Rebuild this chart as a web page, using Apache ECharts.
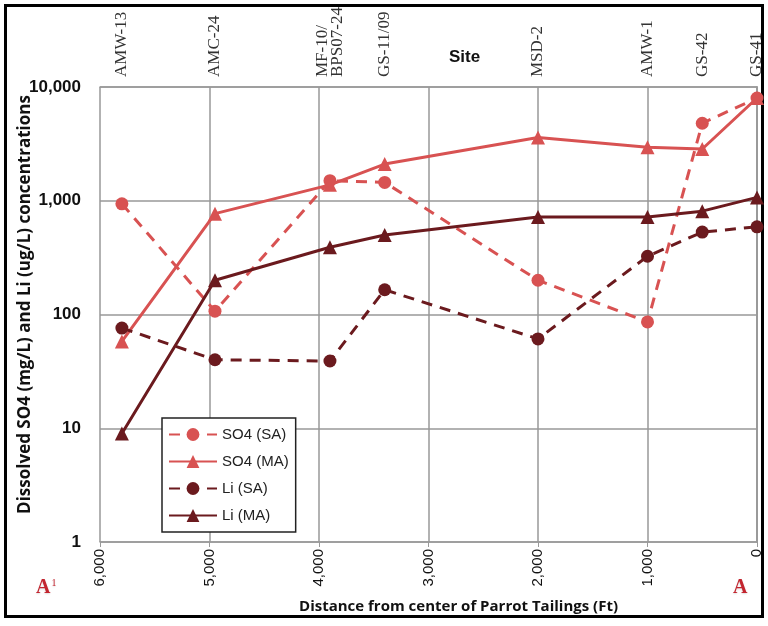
<!DOCTYPE html>
<html>
<head>
<meta charset="utf-8">
<script src="https://cdn.jsdelivr.net/npm/echarts@6/dist/echarts.min.js"></script>
<style>
html,body{margin:0;padding:0;background:#fff;}
#wrap{position:absolute;left:4px;top:4px;width:754px;height:608px;border:3px solid #000;}
#chart{position:absolute;left:0;top:0;width:768px;height:626px;}
</style>
</head>
<body>
<div id="wrap"></div>
<div id="chart"></div>
<script>
// Distance from center of Parrot Tailings (ft) for each site
const sites = ['AMW-13', 'AMC-24', 'MF-10/\nBPS07-24', 'GS-11/09', 'MSD-2', 'AMW-1', 'GS-42', 'GS-41'];
const distances = [5800, 4950, 3900, 3400, 2000, 1000, 500, 0];
const so4SA = [940, 107, 1500, 1450, 200, 86, 4800, 8000];
const so4MA = [58, 770, 1380, 2100, 3600, 2950, 2850, 8000];
const liSA = [76, 40, 39, 165, 61, 325, 530, 590];
const liMA = [9, 200, 390, 500, 720, 720, 810, 1070];
const xTicks = [0, 1000, 2000, 3000, 4000, 5000, 6000];
const yTicks = [1, 10, 100, 1000, 10000];

const SO4C = '#d85252';
const LIC = '#6b1a1e';

function pts(vals) { return distances.map((d, i) => [d, vals[i]]); }

const chart = echarts.init(document.getElementById('chart'));
chart.setOption({
  animation: false,
  backgroundColor: 'transparent',
  grid: { left: 100, right: 11, top: 87, bottom: 84, containLabel: false, outerBoundsMode: 'none' },
  title: {
    text: 'Site', left: 444, top: 44,
    textStyle: { fontFamily: 'Liberation Sans', fontSize: 17, fontWeight: 'bold', color: '#111' }
  },
  xAxis: [{
    type: 'value', position: 'bottom', inverse: true, min: 0, max: 6000, interval: 1000,
    axisLine: { show: true, lineStyle: { color: '#999', width: 1.5 } },
    axisTick: { show: true, length: 5, lineStyle: { color: '#999' } },
    splitLine: { show: true, lineStyle: { color: '#999', width: 1.5 } },
    axisLabel: {
      rotate: 90, margin: 7, fontFamily: 'Liberation Sans', fontSize: 15, color: '#111',
      customValues: xTicks,
      formatter: v => v.toLocaleString('en-US')
    },
    name: 'Distance from center of Parrot Tailings (Ft)', nameLocation: 'middle', nameGap: 57,
    nameMoveOverlap: false,
    nameTextStyle: { fontFamily: 'Open Sans', fontSize: 15, fontWeight: 'bold', color: '#111', padding: [0, 0, 0, 60] }
  }, {
    type: 'value', position: 'top', inverse: true, min: 0, max: 6000,
    axisLine: { show: true, lineStyle: { color: '#999', width: 1.5 } },
    axisTick: { show: false },
    splitLine: { show: false },
    axisLabel: {
      show: true, rotate: -90, margin: 10, fontFamily: 'Liberation Serif', fontSize: 17, color: '#333',
      lineHeight: 15, customValues: distances,
      formatter: v => { const i = distances.indexOf(v); return i >= 0 ? sites[i] : ''; }
    }
  }],
  yAxis: [{
    type: 'log', logBase: 10, min: 1, max: 10000,
    axisLine: { show: true, lineStyle: { color: '#999', width: 1.5 } },
    axisTick: { show: false },
    minorTick: { show: false },
    splitLine: { show: true, lineStyle: { color: '#999', width: 1.5 } },
    axisLabel: {
      margin: 19, fontFamily: 'Liberation Sans', fontSize: 17, fontWeight: 'bold', color: '#111',
      customValues: yTicks,
      formatter: v => Math.round(v).toLocaleString('en-US')
    },
    name: 'Dissolved SO4 (mg/L) and Li (ug/L) concentrations', nameLocation: 'middle', nameGap: 66,
    nameMoveOverlap: false,
    nameTextStyle: { fontFamily: 'Open Sans', fontSize: 17, fontWeight: 'bold', color: '#111', padding: [0, 0, 0, 20] }
  }, {
    type: 'log', logBase: 10, min: 1, max: 10000, position: 'right',
    axisLine: { show: true, lineStyle: { color: '#999', width: 1.5 } },
    axisTick: { show: false }, axisLabel: { show: false }, splitLine: { show: false }
  }],
  legend: {
    orient: 'vertical', left: 162, top: 418,
    backgroundColor: '#fff', borderColor: '#222', borderWidth: 1.5,
    padding: [9, 7, 9, 6], itemGap: 12, itemWidth: 48, itemHeight: 16,
    textStyle: { fontFamily: 'Liberation Sans', fontSize: 15, color: '#222' },
    data: ['SO4 (SA)', 'SO4 (MA)', 'Li (SA)', 'Li (MA)']
  },
  graphic: [
    { type: 'text', left: 36, top: 578, style: {
      text: '{a|A}{s|1}', rich: { a: { fontFamily: 'Liberation Serif', fontSize: 20, fontWeight: 'bold', fill: '#c3252f' }, s: { fontFamily: 'Liberation Serif', fontSize: 10, fill: '#c3252f', verticalAlign: 'top', padding: [0, 0, 10, 1] } },
      textShadowColor: '#ddd', textShadowBlur: 2, textShadowOffsetY: 1 } },
    { type: 'text', left: 733, top: 578, style: {
      text: 'A', font: 'bold 20px "Liberation Serif"', fill: '#c3252f',
      textShadowColor: '#ddd', textShadowBlur: 2, textShadowOffsetY: 1 } }
  ],
  series: [
    { name: 'SO4 (SA)', type: 'line', data: pts(so4SA), color: SO4C,
      symbol: 'circle', symbolSize: 13, lineStyle: { width: 3, type: [11, 8] }, z: 3 },
    { name: 'SO4 (MA)', type: 'line', data: pts(so4MA), color: SO4C,
      symbol: 'triangle', symbolSize: 14, lineStyle: { width: 3 }, z: 2 },
    { name: 'Li (SA)', type: 'line', data: pts(liSA), color: LIC,
      symbol: 'circle', symbolSize: 13, lineStyle: { width: 3, type: [11, 8] }, z: 4 },
    { name: 'Li (MA)', type: 'line', data: pts(liMA), color: LIC,
      symbol: 'triangle', symbolSize: 14, lineStyle: { width: 3 }, z: 5 }
  ]
});
</script>
</body>
</html>
